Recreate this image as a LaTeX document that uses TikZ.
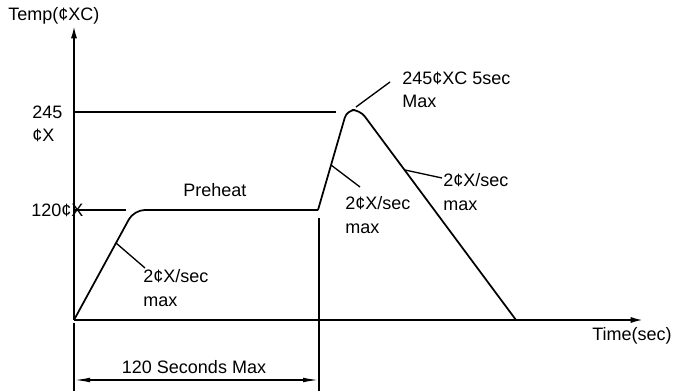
\documentclass[tikz,border=0pt]{standalone}
\usepackage{fontspec}
\setmainfont{Liberation Sans}
\usetikzlibrary{arrows,arrows.meta,positioning,calc}

\begin{document}
\begin{tikzpicture}[x=0.75pt,y=-0.75pt,
font=\fontsize{13.5}{17.5}\selectfont]

\tikzstyle{axis}=[line width=1.6pt,-{Latex[length=10pt,width=4.5pt]}]
\tikzstyle{profile}=[line width=1.3pt]
\tikzstyle{leader}=[line width=1pt]
\tikzstyle{dim}=[line width=1.1pt]
\tikzstyle{txt}=[inner sep=0pt,anchor=west,align=left]

\useasboundingbox (0,0) rectangle (678,391);

%axes
\coordinate (o) at (74,320);
\coordinate (ytop) at (74,25);
\coordinate (xend) at (644,320);
\draw[axis] (o) -- (ytop);
\draw[axis] (o) -- (xend);

\node[txt] (ylab) at (8,16) {Temp(¢XC)};
\node[txt] (xlab) at (592,336) {Time(sec)};

%levels
\coordinate (a245) at (74,112);
\coordinate (b245) at (336,112);
\coordinate (a120) at (74,210);
\coordinate (b120) at (126,210);
\draw[profile] (a245) -- (b245);
\draw[profile] (a120) -- (b120);

\node[txt] (t245) at (32,124) {245\\¢X};
\node[txt] (t120) at (31,210) {120¢X};

%profile
\coordinate (p1) at (134,210);
\coordinate (p2) at (318,210);
\coordinate (p3) at (347,110);
\coordinate (p4) at (360,110);
\coordinate (p5) at (516,320);
\draw[profile,rounded corners=8pt] (o) -- (p1) -- (p2);
\draw[profile,rounded corners=6pt] (p2) -- (p3) -- (p4) -- (p5);

\node[txt] (preheat) at (183,190) {Preheat};

%leaders
\coordinate (r1) at (116,243);
\coordinate (r1e) at (145,268);
\coordinate (r2) at (331,165);
\coordinate (r2e) at (360,187);
\coordinate (r3) at (405,170);
\coordinate (r3e) at (442,178);
\coordinate (r4) at (356,107);
\coordinate (r4e) at (390,82);
\draw[leader] (r1) -- (r1e);
\draw[leader] (r2) -- (r2e);
\draw[leader] (r3) -- (r3e);
\draw[leader] (r4) -- (r4e);

\node[txt] (rate1) at (143,288) {2¢X/sec\\max};
\node[txt] (rate2) at (345,215) {2¢X/sec\\max};
\node[txt] (rate3) at (443,192) {2¢X/sec\\max};
\node[txt] (peak) at (402,90) {245¢XC 5sec\\Max};

%dimension
\coordinate (d1) at (74,323);
\coordinate (d1e) at (74,391);
\coordinate (d2) at (319,218);
\coordinate (d2e) at (319,391);
\coordinate (m1) at (74,380);
\coordinate (m2) at (319,380);
\draw[dim] (d1) -- (d1e);
\draw[dim] (d2) -- (d2e);
\draw[dim,{Latex[length=12pt,width=3.5pt]}-{Latex[length=12pt,width=3.5pt]}] (m1) -- (m2);
\node (span) at (194,367) {120 Seconds Max};

\end{tikzpicture}
\end{document}
